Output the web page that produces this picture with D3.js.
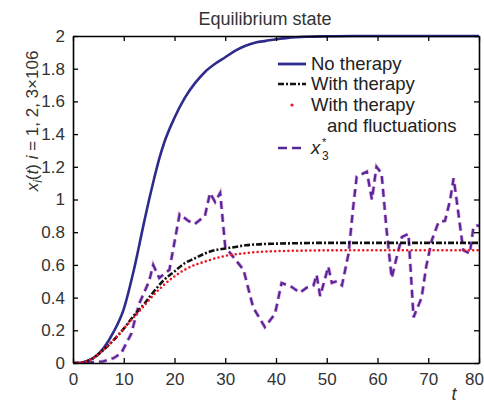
<!DOCTYPE html>
<html>
<head>
<meta charset="utf-8">
<script src="https://cdn.jsdelivr.net/npm/d3@7"></script>
<style>
  body { margin: 0; background: #fff; }
  svg { font-family: "Liberation Sans", Arial, sans-serif; }
</style>
</head>
<body>
<div id="chart-wrapper"></div>
<script>
// values
const noTherapyT = [0, 2, 4, 6, 8, 10, 12, 14, 15, 16, 17, 18, 20, 22, 24, 26, 28, 30, 32, 34, 36, 38, 40, 42, 44, 46, 50, 55, 80];
const noTherapyV = [0, 0.005, 0.03, 0.09, 0.19, 0.33, 0.57, 0.86, 1.0, 1.13, 1.25, 1.35, 1.5, 1.62, 1.71, 1.78, 1.83, 1.87, 1.91, 1.94, 1.96, 1.97, 1.98, 1.987, 1.992, 1.995, 1.998, 2, 2];

const therapyT = [0, 2, 4, 6, 8, 10, 12, 14, 16, 18, 20, 22, 24, 26, 28, 30, 32, 34, 36, 40, 45, 50, 80];
const therapyV = [0, 0.005, 0.03, 0.08, 0.14, 0.21, 0.29, 0.36, 0.44, 0.51, 0.56, 0.61, 0.64, 0.67, 0.69, 0.70, 0.71, 0.72, 0.725, 0.73, 0.733, 0.735, 0.735];
const fluctV = [0, 0.005, 0.03, 0.08, 0.14, 0.21, 0.28, 0.35, 0.42, 0.48, 0.53, 0.57, 0.60, 0.62, 0.64, 0.655, 0.665, 0.672, 0.678, 0.684, 0.687, 0.689, 0.69];

const x3T = [0, 2, 4, 6, 8, 9.5, 11.5, 13, 14, 15, 15.8, 17, 19, 21, 22.7, 24, 26, 27, 28, 29, 30, 33.6, 35.5, 37.8, 39.8, 41.1, 43.1, 44.7, 46, 47.4, 48, 48.7, 49.7, 50.3, 51, 52, 53, 54.3, 55.2, 55.9, 57.9, 58.9, 59.8, 60.8, 61.8, 62.8, 63.8, 64.8, 66.1, 67.1, 68.7, 69.6, 70.7, 72, 73.3, 74.3, 75, 75.6, 76.9, 78.2, 78.9, 79.5, 80];
const x3V = [0, 0, 0.005, 0.01, 0.03, 0.06, 0.18, 0.36, 0.43, 0.5, 0.6, 0.52, 0.57, 0.91, 0.87, 0.85, 0.9, 1.04, 0.985, 1.04, 0.71, 0.57, 0.34, 0.22, 0.30, 0.49, 0.465, 0.43, 0.46, 0.475, 0.54, 0.41, 0.52, 0.59, 0.49, 0.5, 0.475, 0.67, 0.95, 1.14, 1.17, 1.0, 1.2, 1.16, 0.81, 0.52, 0.65, 0.77, 0.79, 0.28, 0.40, 0.59, 0.75, 0.86, 0.87, 0.995, 1.13, 0.995, 0.69, 0.67, 0.83, 0.84, 0.84];

const xTicks = [0, 10, 20, 30, 40, 50, 60, 70, 80];
const yTicks = [0, 0.2, 0.4, 0.6, 0.8, 1, 1.2, 1.4, 1.6, 1.8, 2];

const zip = (ts, vs) => ts.map((t, i) => ({ t: t, v: vs[i] }));

let dimensions = {
  width: 484,
  height: 405,
  margin: { top: 36, right: 5, bottom: 42, left: 73 },
};
dimensions.boundedWidth = dimensions.width - dimensions.margin.left - dimensions.margin.right;
dimensions.boundedHeight = dimensions.height - dimensions.margin.top - dimensions.margin.bottom;

const wrapper = d3.select("#chart-wrapper")
  .append("svg")
  .attr("width", dimensions.width)
  .attr("height", dimensions.height);

const bounds = wrapper.append("g")
  .attr("transform", `translate(${dimensions.margin.left},${dimensions.margin.top})`);

const xScale = d3.scaleLinear().domain([0, 80]).range([0, dimensions.boundedWidth]);
const yScale = d3.scaleLinear().domain([0, 2]).range([dimensions.boundedHeight, 0]);

// curves
const smooth = d3.line()
  .x((d) => xScale(d.t))
  .y((d) => yScale(d.v))
  .curve(d3.curveMonotoneX);
const straight = d3.line()
  .x((d) => xScale(d.t))
  .y((d) => yScale(d.v));

bounds.append("clipPath").attr("id", "clip")
  .append("rect").attr("width", dimensions.boundedWidth).attr("height", dimensions.boundedHeight + 2).attr("y", -2);
const plot = bounds.append("g").attr("clip-path", "url(#clip)");

const blue = "#2e2b8c";
const purple = "#55289a";

plot.append("path")
  .attr("d", smooth(zip(noTherapyT, noTherapyV)))
  .attr("fill", "none").attr("stroke", blue).attr("stroke-width", 2.6);

// x3* dashed, with a faint pink halo like the scan
plot.append("path")
  .attr("d", straight(zip(x3T, x3V)))
  .attr("fill", "none").attr("stroke", "#e3a6dc").attr("stroke-width", 3.6)
  .attr("stroke-dasharray", "8 5");
plot.append("path")
  .attr("d", straight(zip(x3T, x3V)))
  .attr("fill", "none").attr("stroke", purple).attr("stroke-width", 2.2)
  .attr("stroke-dasharray", "8 5");

plot.append("path")
  .attr("d", smooth(zip(therapyT, therapyV)))
  .attr("fill", "none").attr("stroke", "#111").attr("stroke-width", 2.6)
  .attr("stroke-dasharray", "6 2 2 2");

plot.append("path")
  .attr("d", smooth(zip(therapyT, fluctV)))
  .attr("fill", "none").attr("stroke", "#f0141e").attr("stroke-width", 2.6)
  .attr("stroke-linecap", "round")
  .attr("stroke-dasharray", "0 4.4");

// axes: full box, ticks pointing inwards
const tickColor = "#000";
const fmt = d3.format("~g");
const xAxis = bounds.append("g")
  .attr("transform", `translate(0,${dimensions.boundedHeight})`)
  .call(d3.axisBottom(xScale).tickValues(xTicks).tickFormat(fmt).tickSizeInner(-5).tickSizeOuter(0).tickPadding(10));
const xAxisTop = bounds.append("g")
  .call(d3.axisTop(xScale).tickValues(xTicks).tickSizeInner(-5).tickSizeOuter(0).tickFormat(""));
const yAxis = bounds.append("g")
  .call(d3.axisLeft(yScale).tickValues(yTicks).tickFormat(fmt).tickSizeInner(-5).tickSizeOuter(0).tickPadding(8));
const yAxisRight = bounds.append("g")
  .attr("transform", `translate(${dimensions.boundedWidth},0)`)
  .call(d3.axisRight(yScale).tickValues(yTicks).tickSizeInner(-5).tickSizeOuter(0).tickFormat(""));

[xAxis, xAxisTop, yAxis, yAxisRight].forEach((a) => {
  a.select(".domain").attr("stroke", tickColor).attr("stroke-width", 1.6);
  a.selectAll(".tick line").attr("stroke", tickColor).attr("stroke-width", 1.3);
  a.selectAll("text")
    .attr("fill", "#333")
    .style("font-size", "17px")
    .style("font-family", "\"Liberation Sans\", Arial, sans-serif");
});
// last x label sits against the window edge
xAxis.selectAll(".tick text").filter((d) => d === 80).attr("dx", -5);

// title and axis labels
wrapper.append("text")
  .attr("x", 265).attr("y", 25)
  .attr("text-anchor", "middle")
  .attr("fill", "#333")
  .style("font-size", "18px")
  .text("Equilibrium state");

wrapper.append("text")
  .attr("x", 454).attr("y", 400)
  .attr("text-anchor", "middle")
  .attr("fill", "#333")
  .style("font-size", "18px")
  .style("font-style", "italic")
  .text("t");

const yLabel = wrapper.append("text")
  .attr("transform", "translate(38,121) rotate(-90)")
  .attr("text-anchor", "middle")
  .attr("fill", "#333")
  .style("font-size", "17px");
yLabel.append("tspan").style("font-style", "italic").text("x");
yLabel.append("tspan").style("font-style", "italic").style("font-size", "12px").attr("dy", 4).text("i");
yLabel.append("tspan").attr("dy", -4).text("(");
yLabel.append("tspan").style("font-style", "italic").text("t");
yLabel.append("tspan").text(") ");
yLabel.append("tspan").style("font-style", "italic").text("i");
yLabel.append("tspan").text(" = 1, 2, 3×106");

// legend
const legend = wrapper.append("g").style("font-size", "18.5px").attr("fill", "#222");
const lx0 = 278, lx1 = 306, tx = 311;

legend.append("line").attr("x1", lx0).attr("x2", lx1).attr("y1", 64).attr("y2", 64)
  .attr("stroke", blue).attr("stroke-width", 2.8);
legend.append("text").attr("x", tx).attr("y", 70).text("No therapy");

legend.append("line").attr("x1", lx0).attr("x2", lx1).attr("y1", 84).attr("y2", 84)
  .attr("stroke", "#111").attr("stroke-width", 2.6).attr("stroke-dasharray", "6 2 2 2");
legend.append("text").attr("x", tx).attr("y", 90).text("With therapy");

legend.append("circle").attr("cx", 292).attr("cy", 105).attr("r", 1.6).attr("fill", "#f0141e");
legend.append("text").attr("x", tx).attr("y", 111).text("With therapy");
legend.append("text").attr("x", 327).attr("y", 132).text("and fluctuations");

legend.append("line").attr("x1", lx0).attr("x2", lx1).attr("y1", 148).attr("y2", 148)
  .attr("stroke", purple).attr("stroke-width", 2.4).attr("stroke-dasharray", "9 5");
legend.append("text").attr("x", tx).attr("y", 154).style("font-style", "italic").text("x");
legend.append("text").attr("x", 322).attr("y", 146).style("font-size", "11px").text("*");
legend.append("text").attr("x", 322).attr("y", 160).style("font-size", "12px").text("3");
</script>
</body>
</html>
